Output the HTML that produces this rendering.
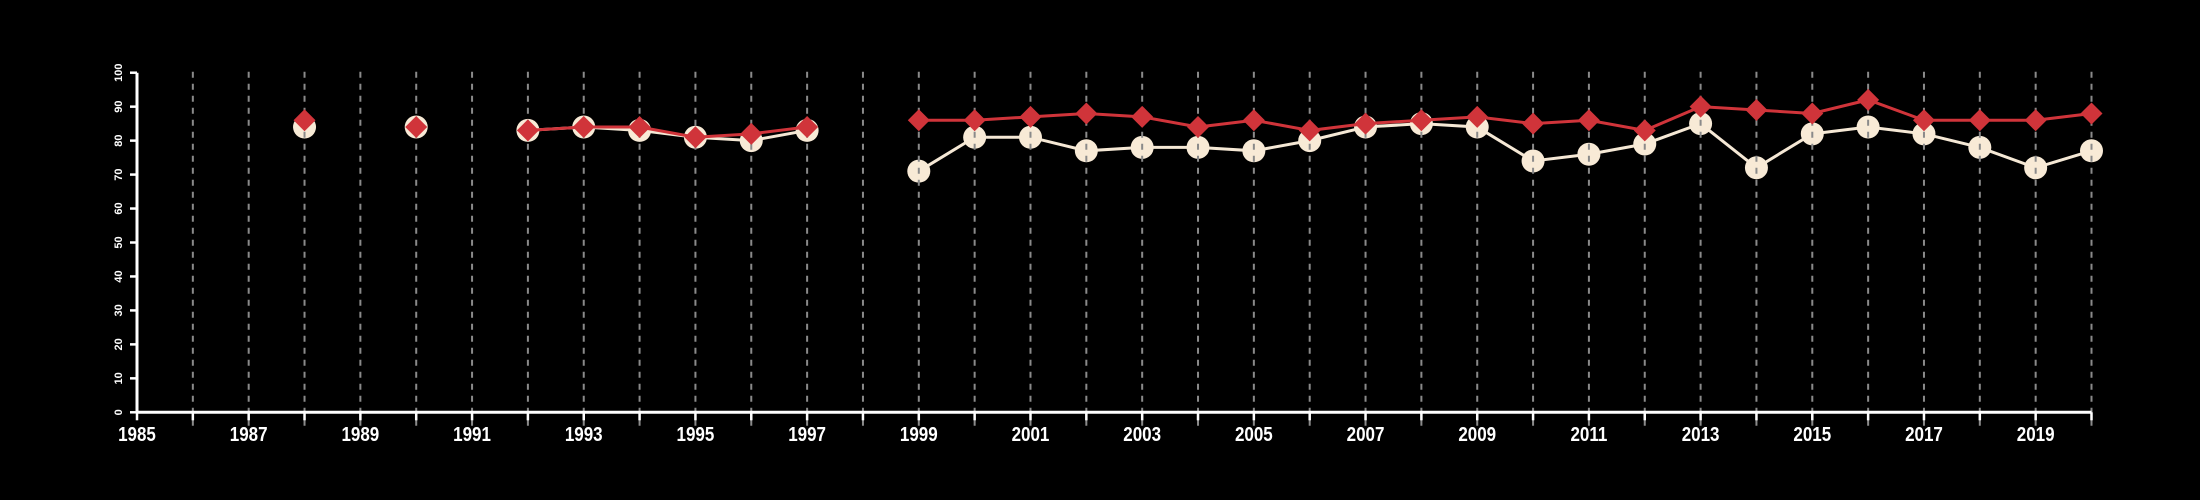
<!DOCTYPE html>
<html><head><meta charset="utf-8"><style>
html,body{margin:0;padding:0;background:#000;}
svg{display:block;font-family:"Liberation Sans",sans-serif;}
</style></head><body>
<svg id="chart" width="2200" height="500" viewBox="0 0 2200 500" xmlns="http://www.w3.org/2000/svg">
<rect width="2200" height="500" fill="#000"/>
<g id="gA"></g><g id="gGrid"></g><g id="gB"></g><g id="gAxes"></g>
</svg>
<script>
const years = [1988,1989,1990,1991,1992,1993,1994,1995,1996,1997,1998,1999,2000,2001,2002,2003,2004,2005,2006,2007,2008,2009,2010,2011,2012,2013,2014,2015,2016,2017,2018,2019,2020];
const seriesA = [84,null,84,null,83,84,83,81,80,83,null,71,81,81,77,78,78,77,80,84,85,84,74,76,79,85,72,82,84,82,78,72,77];
const seriesB = [86,null,84,null,83,84,84,81,82,84,null,86,86,87,88,87,84,86,83,85,86,87,85,86,83,90,89,88,92,86,86,86,88];
const yTicks = [0,10,20,30,40,50,60,70,80,90,100];
const xLabels = [1985,1987,1989,1991,1993,1995,1997,1999,2001,2003,2005,2007,2009,2011,2013,2015,2017,2019];

const NS="http://www.w3.org/2000/svg";
const x0=137,x1=2091.5,y0=412.3,y1=72.7;
const X=v=>x0+(v-1985)*(x1-x0)/35;
const Y=v=>y0-(v)*(y0-y1)/100;
function mk(tag,attrs,parent){const e=document.createElementNS(NS,tag);for(const k in attrs)e.setAttribute(k,attrs[k]);parent.appendChild(e);return e;}
const gA=document.getElementById('gA'),gB=document.getElementById('gB'),gGrid=document.getElementById('gGrid'),gAx=document.getElementById('gAxes');

function segs(vals){const out=[];let cur=[];vals.forEach((v,i)=>{if(v==null){if(cur.length)out.push(cur);cur=[];}else cur.push([X(years[i]),Y(v)]);});if(cur.length)out.push(cur);return out;}

segs(seriesA).forEach(s=>{if(s.length>1){const p=mk('polyline',{points:s.map(q=>q.join(',')).join(' '),fill:'none',stroke:'#f5e8d5','stroke-width':3},gA);

}});
seriesA.forEach((v,i)=>{if(v==null)return;const c=mk('circle',{cx:X(years[i]),cy:Y(v),r:11.5,fill:'#f8ead6'},gA);

});

for(let yr=1986;yr<=2020;yr++){const l=mk('line',{x1:X(yr),x2:X(yr),y1:Y(100)-1,y2:427,stroke:'#8a8a8a','stroke-width':2,'stroke-dasharray':'6,6'},gGrid);

}

segs(seriesB).forEach(s=>{if(s.length>1){const p=mk('polyline',{points:s.map(q=>q.join(',')).join(' '),fill:'none',stroke:'#d0343a','stroke-width':3},gB);

}});
seriesB.forEach((v,i)=>{if(v==null)return;const cx=X(years[i]),cy=Y(v),r=11;
const d=mk('polygon',{points:`${cx},${cy-r} ${cx+r},${cy} ${cx},${cy+r} ${cx-r},${cy}`,fill:'#d0343a'},gB);

});

const xa=mk('line',{x1:x0,x2:x1,y1:y0,y2:y0,stroke:'#fff','stroke-width':3},gAx);


const ya=mk('line',{x1:x0,x2:x0,y1:y0,y2:Y(100),stroke:'#fff','stroke-width':3},gAx);


for(let yr=1985;yr<=2020;yr++){const t=mk('line',{x1:X(yr),x2:X(yr),y1:y0,y2:y0+8,stroke:'#fff','stroke-width':2.5},gAx);

}
xLabels.forEach(v=>{const t=mk('text',{x:X(v),y:441,fill:'#fff','font-size':20,'font-weight':'bold','text-anchor':'middle',transform:`translate(${X(v)},0) scale(0.85,1) translate(${-X(v)},0)`},gAx);t.textContent=v;

});
yTicks.forEach(v=>{const t=mk('line',{x1:x0-7,x2:x0,y1:Y(v),y2:Y(v),stroke:'#fff','stroke-width':2.5},gAx);


const l=mk('text',{x:0,y:0,fill:'#fff','font-size':11,'font-weight':'bold','text-anchor':'middle',transform:`translate(${x0-15},${Y(v)}) rotate(-90)`},gAx);l.textContent=v;

});
</script>
</body></html>
